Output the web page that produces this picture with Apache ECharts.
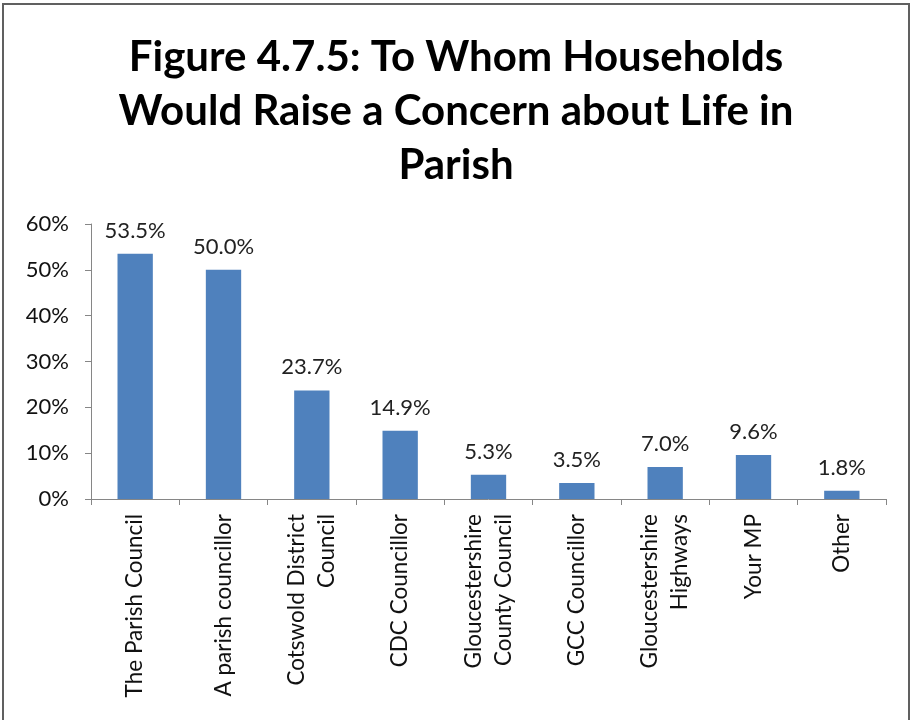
<!DOCTYPE html>
<html>
<head>
<meta charset="utf-8">
<script src="https://cdn.jsdelivr.net/npm/echarts@6/dist/echarts.min.js"></script>
<style>
  html, body { margin: 0; padding: 0; background: #fff; }
  #chart { width: 912px; height: 720px; }
</style>
</head>
<body>
<div id="chart"></div>
<script>
const titleText = "Figure 4.7.5: To Whom Households\nWould Raise a Concern about Life in\nParish";
const categories = [
  "The Parish Council",
  "A parish councillor",
  "Cotswold District\nCouncil",
  "CDC Councillor",
  "Gloucestershire\nCounty Council",
  "GCC Councillor",
  "Gloucestershire\nHighways",
  "Your MP",
  "Other"
];
const values = [53.5, 50.0, 23.7, 14.9, 5.3, 3.5, 7.0, 9.6, 1.8];
const yTicks = { min: 0, max: 60, interval: 10 };

const chart = echarts.init(document.getElementById('chart'), null, { renderer: 'canvas' });
const font = 'Lato, "Open Sans", sans-serif';
chart.setOption({
  animation: false,
  backgroundColor: '#fff',
  title: {
    text: titleText,
    left: 'center',
    top: 25,
    textStyle: {
      fontFamily: font,
      fontWeight: 'bold',
      fontSize: 42,
      lineHeight: 54,
      color: '#000'
    }
  },
  graphic: [{
    type: 'rect',
    shape: { x: 3, y: 4, width: 906, height: 730 },
    style: { fill: 'none', stroke: '#606060', lineWidth: 2 },
    silent: true
  }],
  grid: { left: 91, right: 26, top: 224, bottom: 221, containLabel: false },
  xAxis: {
    type: 'category',
    data: categories,
    axisLine: { lineStyle: { color: '#868686', width: 1 } },
    axisTick: { show: true, alignWithLabel: false, length: 6, lineStyle: { color: '#868686' } },
    axisLabel: {
      rotate: 90,
      interval: 0,
      margin: 15,
      fontFamily: font,
      fontSize: 22.5,
      lineHeight: 30,
      color: '#111'
    }
  },
  yAxis: {
    type: 'value',
    min: yTicks.min,
    max: yTicks.max,
    interval: yTicks.interval,
    axisLine: { show: true, lineStyle: { color: '#868686', width: 1 } },
    axisTick: { show: true, length: 6, lineStyle: { color: '#868686' } },
    splitLine: { show: false },
    axisLabel: {
      formatter: '{value}%',
      margin: 22,
      fontFamily: font,
      fontSize: 22,
      color: '#111'
    }
  },
  series: [{
    type: 'bar',
    data: values,
    barWidth: '40%',
    itemStyle: { color: '#4F81BD' },
    label: {
      show: true,
      position: 'top',
      distance: 12,
      formatter: p => p.value.toFixed(1) + '%',
      fontFamily: font,
      fontSize: 22,
      color: '#222'
    }
  }]
});
</script>
</body>
</html>
